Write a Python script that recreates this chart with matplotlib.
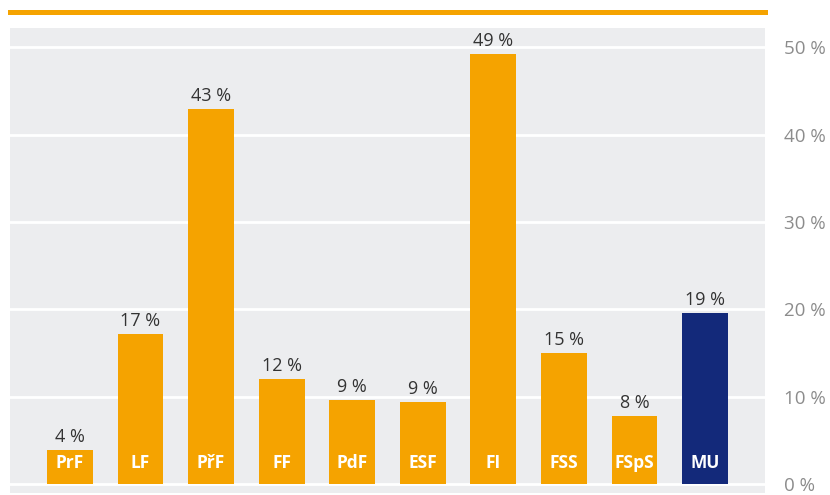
import matplotlib.pyplot as plt
from matplotlib.lines import Line2D

plt.rcParams['font.family'] = ['Open Sans', 'DejaVu Sans']

# fakulty a podíl (%)
fakulty = ['PrF', 'LF', 'PřF', 'FF', 'PdF', 'ESF', 'FI', 'FSS', 'FSpS', 'MU']
hodnoty = [3.9, 17.2, 42.9, 12.0, 9.6, 9.4, 49.2, 15.0, 7.8, 19.6]
popisky = ['4 %', '17 %', '43 %', '12 %', '9 %', '9 %', '49 %', '15 %', '8 %', '19 %']
barvy = ['#F5A300'] * 9 + ['#13297A']

fig = plt.figure(figsize=(8.3, 4.95), dpi=100)
ax = fig.add_axes([0.012, 0.004, 0.9097, 0.9394])
ax.set_facecolor('#ECEDEF')

x = range(len(fakulty))
ax.bar(x, hodnoty, width=0.65, color=barvy, zorder=3)

for i, (v, lab, name) in enumerate(zip(hodnoty, popisky, fakulty)):
    ax.annotate(lab, (i, v), xytext=(0, 3), textcoords='offset points',
                ha='center', va='bottom', fontsize=13, color='#333333')
    ax.annotate(name, (i, 0), xytext=(0, 15), textcoords='offset points',
                ha='center', va='center', fontsize=12.5, color='white',
                fontweight='bold', zorder=4)

ax.set_xlim(-0.85, 9.85)
ax.set_ylim(-1.03, 52.2)
ax.set_yticks([0, 10, 20, 30, 40, 50])
ax.set_yticklabels(['0 %', '10 %', '20 %', '30 %', '40 %', '50 %'])
ax.yaxis.tick_right()
ax.tick_params(axis='y', length=0, pad=14, labelsize=13.5, labelcolor='#8C8C8C')
ax.tick_params(axis='x', length=0, labelbottom=False)
ax.grid(axis='y', color='white', linewidth=2, zorder=1)
for s in ax.spines.values():
    s.set_visible(False)

# oranžová linka nahoře
fig.add_artist(Line2D([0.012, 0.9217], [0.9758, 0.9758], color='#F5A300',
                      linewidth=3.6, transform=fig.transFigure))

plt.savefig('out.png', dpi=100)
plt.close()
